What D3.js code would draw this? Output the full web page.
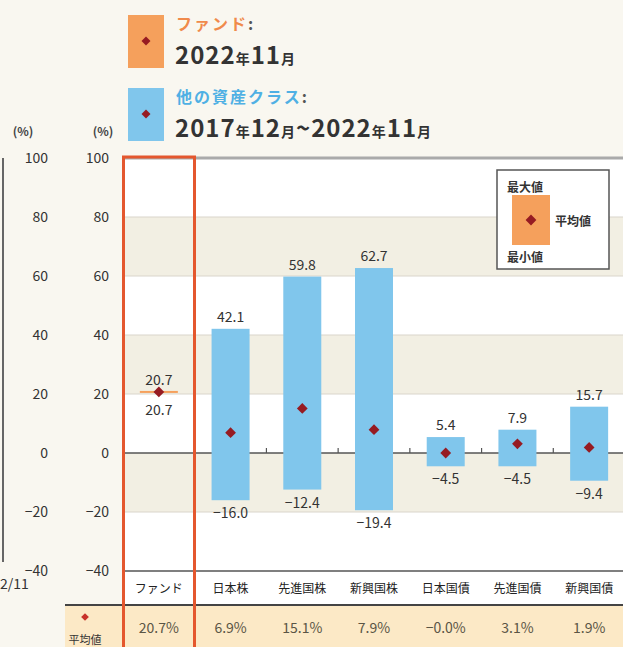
<!DOCTYPE html>
<html><head><meta charset="utf-8">
<script src="https://cdn.jsdelivr.net/npm/d3@7"></script>
<style>
html,body{margin:0;padding:0;background:#f9f7f0;}
svg{display:block;font-family:"Noto Sans CJK JP","Noto Sans",sans-serif;}
</style></head>
<body>
<svg id="chart" width="623" height="647"></svg>
<script>
const categories = ["ファンド","日本株","先進国株","新興国株","日本国債","先進国債","新興国債"];
const maxValues = [20.7, 42.1, 59.8, 62.7, 5.4, 7.9, 15.7];
const minValues = [20.7, -16.0, -12.4, -19.4, -4.5, -4.5, -9.4];
const avgValues = [20.7, 6.9, 15.1, 7.9, -0.0, 3.1, 1.9];
const yTicks = [100, 80, 60, 40, 20, 0, -20, -40];

const C = {
  bg:"#f9f7f0", band:"#f2efe3", grid:"#d9d6cc", dark:"#555", text:"#333",
  blue:"#80c6ec", orange:"#f5a05c", red:"#e4572e", diamond:"#961b22",
  avgBg:"#fce9c6", orangeText:"#f08a4b", blueText:"#4fb0e4"
};

const fmt = v => (v < 0 || Object.is(v, -0) ? "−" : "") + Math.abs(v).toFixed(1);

const svg = d3.select("#chart");
const W = 623;
const plotL = 122, plotR = 623;
const y = d3.scaleLinear().domain([-40, 100]).range([571, 158]);
const x = d3.scaleBand().domain(categories).range([123, 625]);
const bw = 38;
const cx = c => x(c) + x.bandwidth() / 2;

// plot background bands
const g = svg.append("g");
g.append("rect").attr("x", plotL).attr("y", y(100)).attr("width", plotR - plotL).attr("height", 605 - y(100)).attr("fill", "#fff");
for (let i = 0; i < yTicks.length - 1; i++) {
  if (i % 2 === 1) {
    g.append("rect").attr("x", plotL).attr("y", y(yTicks[i])).attr("width", plotR - plotL)
      .attr("height", y(yTicks[i + 1]) - y(yTicks[i])).attr("fill", C.band);
  }
}
// gridlines
g.selectAll(".grid").data(yTicks.filter(t => t !== 0 && t !== -40 && t !== 100)).join("line")
  .attr("x1", plotL).attr("x2", plotR).attr("y1", d => y(d)).attr("y2", d => y(d))
  .attr("stroke", C.grid).attr("stroke-width", 1.2);
g.append("line").attr("x1", plotL).attr("x2", plotR).attr("y1", y(100)).attr("y2", y(100))
  .attr("stroke", "#aaa").attr("stroke-width", 3);
g.append("line").attr("x1", plotL).attr("x2", plotR).attr("y1", y(-40)).attr("y2", y(-40))
  .attr("stroke", C.dark).attr("stroke-width", 1.5);

// avg row
svg.append("rect").attr("x", 65).attr("y", 605).attr("width", W - 65).attr("height", 42).attr("fill", C.avgBg);
svg.append("line").attr("x1", 65).attr("x2", W).attr("y1", 605).attr("y2", 605).attr("stroke", "#444").attr("stroke-width", 2);

// zero line & small ticks
g.append("line").attr("x1", plotL).attr("x2", plotR).attr("y1", y(0)).attr("y2", y(0))
  .attr("stroke", C.dark).attr("stroke-width", 1.5);
g.selectAll(".zt").data(categories.slice(1)).join("line")
  .attr("x1", d => x(d)).attr("x2", d => x(d)).attr("y1", y(0) - 5).attr("y2", y(0))
  .attr("stroke", C.dark).attr("stroke-width", 1.2);

// main y axis
const ax = svg.append("g").attr("transform", "translate(109,0)")
  .call(d3.axisLeft(y).tickValues(yTicks).tickSize(0).tickPadding(0).tickFormat(d => d < 0 ? "−" + Math.abs(d) : d));
ax.select(".domain").remove();
ax.selectAll("text").attr("font-size", 14).attr("fill", C.text).attr("font-family", "'Noto Sans CJK JP',sans-serif");

// partial left axis (neighbouring chart)
const ax2 = svg.append("g").attr("transform", "translate(48,0)")
  .call(d3.axisLeft(y).tickValues(yTicks).tickSize(0).tickPadding(0).tickFormat(d => d < 0 ? "−" + Math.abs(d) : d));
ax2.select(".domain").remove();
ax2.selectAll("text").attr("font-size", 14).attr("fill", C.text).attr("font-family", "'Noto Sans CJK JP',sans-serif");
svg.append("line").attr("x1", 3).attr("x2", 3).attr("y1", y(100)).attr("y2", 562).attr("stroke", "#666").attr("stroke-width", 2);
svg.append("text").attr("x", 0).attr("y", 589).attr("font-size", 14).attr("fill", C.text).text("2/11");
svg.append("text").attr("x", 23).attr("y", 136).attr("text-anchor", "middle").attr("font-size", 12).attr("font-weight", "bold").attr("fill", "#444").text("(%)");
svg.append("text").attr("x", 103).attr("y", 136).attr("text-anchor", "middle").attr("font-size", 12).attr("font-weight", "bold").attr("fill", "#444").text("(%)");

// bars
const data = categories.map((c, i) => ({c, i, max: maxValues[i], min: minValues[i], avg: avgValues[i]}));
svg.selectAll(".bar").data(data).join("rect")
  .attr("x", d => cx(d.c) - bw / 2).attr("width", bw)
  .attr("y", d => d.max === d.min ? y(d.max) - 1 : y(d.max))
  .attr("height", d => Math.max(2, y(d.min) - y(d.max)))
  .attr("fill", d => d.i === 0 ? C.orange : C.blue);

// diamonds
const dia = d3.symbol(d3.symbolSquare, 58);
svg.selectAll(".dm").data(data).join("path")
  .attr("d", dia).attr("fill", C.diamond)
  .attr("transform", d => `translate(${cx(d.c)},${y(d.avg)}) rotate(45)`);

// value labels
svg.selectAll(".mx").data(data).join("text")
  .attr("x", d => cx(d.c)).attr("y", d => y(d.max) - 7)
  .attr("text-anchor", "middle").attr("font-size", 14).attr("fill", C.text).text(d => fmt(d.max));
svg.selectAll(".mn").data(data).join("text")
  .attr("x", d => cx(d.c)).attr("y", d => y(d.min) + (d.i === 0 ? 23 : 18))
  .attr("text-anchor", "middle").attr("font-size", 14).attr("fill", C.text).text(d => fmt(d.min));

// category labels
svg.selectAll(".cat").data(categories).join("text")
  .attr("x", d => cx(d)).attr("y", 593).attr("text-anchor", "middle")
  .attr("font-size", 12).attr("fill", "#222").text(d => d);

// averages
svg.selectAll(".av").data(data).join("text")
  .attr("x", d => cx(d.c)).attr("y", 633).attr("text-anchor", "middle")
  .attr("font-size", 14).attr("fill", "#5a5545").text(d => fmt(d.avg) + "%");
svg.append("path").attr("d", d3.symbol(d3.symbolSquare, 30)).attr("fill", "#c8322a")
  .attr("transform", "translate(85,617) rotate(45)");
svg.append("text").attr("x", 85).attr("y", 644).attr("text-anchor", "middle").attr("font-size", 11).attr("fill", C.text).text("平均値");

// red fund box
svg.append("rect").attr("x", plotL + 1.5).attr("y", y(100) - 1).attr("width", 196 - plotL - 3).attr("height", 700)
  .attr("fill", "none").attr("stroke", C.red).attr("stroke-width", 3);

// legend box inside plot
const lg = svg.append("g");
lg.append("rect").attr("x", 497).attr("y", 170).attr("width", 112).attr("height", 99)
  .attr("fill", "#fff").attr("stroke", "#555").attr("stroke-width", 1.5);
lg.append("rect").attr("x", 512).attr("y", 195).attr("width", 38).attr("height", 50).attr("fill", C.orange);
lg.append("path").attr("d", dia).attr("fill", C.diamond).attr("transform", "translate(531,220) rotate(45)");
lg.append("text").attr("x", 507).attr("y", 192).attr("font-size", 12).attr("font-weight", "bold").attr("fill", C.text).text("最大値");
lg.append("text").attr("x", 555).attr("y", 226).attr("font-size", 12).attr("font-weight", "bold").attr("fill", C.text).text("平均値");
lg.append("text").attr("x", 507).attr("y", 262).attr("font-size", 12).attr("font-weight", "bold").attr("fill", C.text).text("最小値");

// top legend
const tl = svg.append("g");
function legendItem(yTop, color, label, labelColor, parts) {
  tl.append("rect").attr("x", 128).attr("y", yTop).attr("width", 36).attr("height", 53).attr("fill", color);
  tl.append("path").attr("d", d3.symbol(d3.symbolSquare, 40)).attr("fill", C.diamond)
    .attr("transform", `translate(146,${yTop + 26}) rotate(45)`);
  const t1 = tl.append("text").attr("x", 176).attr("y", yTop + 15).attr("font-size", 16)
    .attr("font-weight", "bold").attr("letter-spacing", 2);
  t1.append("tspan").attr("fill", labelColor).text(label);
  t1.append("tspan").attr("fill", "#555").text(":");
  const t2 = tl.append("text").attr("x", 175).attr("y", yTop + 49).attr("font-weight", "bold")
    .attr("fill", C.text).attr("letter-spacing", 1);
  parts.forEach(p => t2.append("tspan").attr("font-size", p.big ? 24 : 14).text(p.t));
}
legendItem(15, C.orange, "ファンド", C.orangeText,
  [{t:"2022",big:1},{t:"年"},{t:"11",big:1},{t:"月"}]);
legendItem(88, C.blue, "他の資産クラス", C.blueText,
  [{t:"2017",big:1},{t:"年"},{t:"12",big:1},{t:"月"},{t:"~",big:1},{t:"2022",big:1},{t:"年"},{t:"11",big:1},{t:"月"}]);
</script>
</body></html>
